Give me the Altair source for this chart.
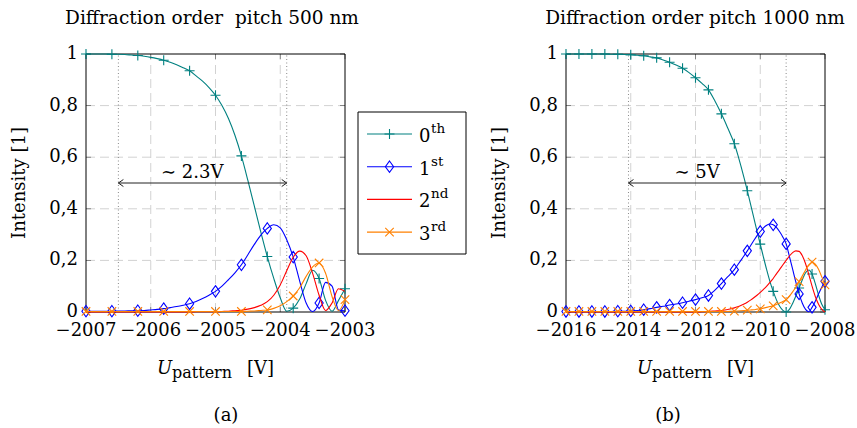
import altair as alt
import pandas as pd

# ---------------- data ----------------
L_X = [-2007.0, -2006.9, -2006.8, -2006.7, -2006.6, -2006.5, -2006.4, -2006.3, -2006.2, -2006.1,
       -2006.0, -2005.9, -2005.8, -2005.7, -2005.6, -2005.5, -2005.4, -2005.3, -2005.2, -2005.1,
       -2005.0, -2004.9, -2004.8, -2004.7, -2004.6, -2004.5, -2004.4, -2004.3, -2004.2, -2004.1,
       -2004.0, -2003.9, -2003.8, -2003.7, -2003.6, -2003.5, -2003.4, -2003.3, -2003.2, -2003.1,
       -2003.0]
L_0 = [1.000, 1.000, 1.000, 1.000, 0.999, 0.999, 0.998, 0.996, 0.994, 0.991,
       0.987, 0.982, 0.976, 0.968, 0.958, 0.947, 0.935, 0.915, 0.895, 0.870,
       0.840, 0.800, 0.750, 0.685, 0.605, 0.510, 0.410, 0.310, 0.215, 0.130,
       0.055, 0.003, 0.015, 0.050, 0.110, 0.162, 0.130, 0.045, 0.003, 0.045,
       0.090]
L_1 = [0.003, 0.003, 0.003, 0.003, 0.003, 0.004, 0.004, 0.005, 0.005, 0.006,
       0.008, 0.010, 0.013, 0.017, 0.021, 0.026, 0.032, 0.041, 0.052, 0.065,
       0.080, 0.100, 0.125, 0.152, 0.183, 0.222, 0.262, 0.298, 0.324, 0.338,
       0.326, 0.280, 0.213, 0.120, 0.035, 0.002, 0.035, 0.115, 0.100, 0.008,
       0.005]
L_2 = [0.000, 0.000, 0.000, 0.000, 0.000, 0.000, 0.000, 0.000, 0.000, 0.000,
       0.000, 0.000, 0.000, 0.000, 0.000, 0.000, 0.000, 0.001, 0.001, 0.001,
       0.001, 0.002, 0.003, 0.005, 0.007, 0.011, 0.017, 0.026, 0.040, 0.065,
       0.105, 0.160, 0.212, 0.236, 0.218, 0.150, 0.065, 0.006, 0.035, 0.090,
       0.080]
L_3 = [0.002, 0.002, 0.002, 0.002, 0.002, 0.002, 0.002, 0.002, 0.002, 0.002,
       0.002, 0.002, 0.002, 0.002, 0.002, 0.002, 0.002, 0.002, 0.002, 0.002,
       0.002, 0.002, 0.002, 0.002, 0.002, 0.003, 0.004, 0.006, 0.008, 0.014,
       0.024, 0.040, 0.062, 0.094, 0.138, 0.175, 0.190, 0.150, 0.060, 0.005,
       0.048]
L_MARK_X = [-2007.0, -2006.6, -2006.2, -2005.8, -2005.4, -2005.0, -2004.6, -2004.2, -2003.8, -2003.4, -2003.0]

R_X = [-2016.0, -2015.8, -2015.6, -2015.4, -2015.2, -2015.0, -2014.8, -2014.6, -2014.4, -2014.2,
       -2014.0, -2013.8, -2013.6, -2013.4, -2013.2, -2013.0, -2012.8, -2012.6, -2012.4, -2012.2,
       -2012.0, -2011.8, -2011.6, -2011.4, -2011.2, -2011.0,
       -2010.9, -2010.8, -2010.7, -2010.6, -2010.5, -2010.4, -2010.3, -2010.2, -2010.1, -2010.0,
       -2009.9, -2009.8, -2009.7, -2009.6, -2009.5, -2009.4, -2009.3, -2009.2, -2009.1, -2009.0,
       -2008.9, -2008.8, -2008.7, -2008.6, -2008.5, -2008.4, -2008.3, -2008.2, -2008.1, -2008.0]
R_0 = [1.000, 1.000, 1.000, 1.000, 1.000, 1.000, 1.000, 0.999, 0.999, 0.998,
       0.997, 0.995, 0.993, 0.989, 0.985, 0.977, 0.968, 0.957, 0.945, 0.928,
       0.908, 0.886, 0.861, 0.818, 0.768, 0.712,
       0.683, 0.652, 0.612, 0.567, 0.520, 0.470, 0.418, 0.366, 0.313, 0.263,
       0.212, 0.163, 0.118, 0.080, 0.047, 0.022, 0.006, 0.000, 0.010, 0.033,
       0.062, 0.093, 0.125, 0.152, 0.163, 0.147, 0.110, 0.066, 0.030, 0.009]
R_1 = [0.002, 0.002, 0.002, 0.002, 0.002, 0.002, 0.002, 0.002, 0.003, 0.003,
       0.004, 0.006, 0.009, 0.013, 0.018, 0.022, 0.027, 0.031, 0.036, 0.042,
       0.048, 0.055, 0.064, 0.085, 0.110, 0.137,
       0.150, 0.164, 0.182, 0.200, 0.218, 0.237, 0.257, 0.277, 0.296, 0.312,
       0.326, 0.336, 0.341, 0.338, 0.328, 0.311, 0.290, 0.264, 0.216, 0.166,
       0.116, 0.070, 0.034, 0.010, 0.001, 0.018, 0.042, 0.070, 0.096, 0.119]
R_2 = [0.000, 0.000, 0.000, 0.000, 0.000, 0.000, 0.000, 0.000, 0.000, 0.000,
       0.000, 0.000, 0.000, 0.000, 0.000, 0.000, 0.000, 0.000, 0.000, 0.000,
       0.000, 0.001, 0.002, 0.004, 0.006, 0.010,
       0.013, 0.016, 0.020, 0.025, 0.031, 0.038, 0.046, 0.055, 0.065, 0.076,
       0.088, 0.100, 0.115, 0.130, 0.148, 0.165, 0.183, 0.200, 0.217, 0.230,
       0.237, 0.235, 0.218, 0.187, 0.145, 0.100, 0.060, 0.030, 0.010, 0.000]
R_3 = [0.002, 0.002, 0.002, 0.002, 0.002, 0.002, 0.002, 0.002, 0.002, 0.002,
       0.002, 0.002, 0.002, 0.002, 0.002, 0.002, 0.002, 0.002, 0.002, 0.002,
       0.002, 0.002, 0.002, 0.002, 0.002, 0.002,
       0.003, 0.003, 0.004, 0.005, 0.006, 0.007, 0.008, 0.009, 0.011, 0.012,
       0.015, 0.018, 0.021, 0.024, 0.029, 0.035, 0.041, 0.048, 0.062, 0.078,
       0.097, 0.118, 0.140, 0.163, 0.183, 0.193, 0.186, 0.166, 0.136, 0.105]
R_MARK_X = [-2016.0, -2015.6, -2015.2, -2014.8, -2014.4, -2014.0, -2013.6, -2013.2, -2012.8,
            -2012.4, -2012.0, -2011.6, -2011.2, -2010.8, -2010.4, -2010.0, -2009.6, -2009.2,
            -2008.8, -2008.4, -2008.0]

L_DOMAIN = [-2007, -2003]
R_DOMAIN = [-2016, -2008]
L_XTICKS = [-2007, -2006, -2005, -2004, -2003]
R_XTICKS = [-2016, -2014, -2012, -2010, -2008]
Y_TICKS = [0, 0.2, 0.4, 0.6, 0.8, 1]
Y_LABELS = ["0", "0,2", "0,4", "0,6", "0,8", "1"]
L_SPAN = [-2006.5, -2003.9]
R_SPAN = [-2014.07, -2009.2]
SPAN_Y = [0.5]
SPAN_LABEL_Y = [0.52]
L_SPAN_LABEL = "∼ 2.3V"
R_SPAN_LABEL = "∼ 5V"
L_LABEL_X = [-2005.36]
R_LABEL_X = [-2011.95]

ORDER_BASE = ["0", "1", "2", "3"]
ORDER_SUP = ["th", "st", "nd", "rd"]
TITLES = ["Diffraction order\u00a0 pitch 500 nm", "Diffraction order pitch 1000 nm"]
CAPTIONS = ["(a)", "(b)"]
Y_TITLE = "Intensity [1]"
X_TITLE = ["U", "pattern", "[V]"]

# ---------------- style ----------------
FONT = "DejaVu Serif"
W, H = 857, 428
Y0PX, Y1PX = 312, 54
COLORS = ["#008080", "#0000ff", "#ff0000", "#ff8000"]
PLUS = "M-1,0L1,0M0,-1L0,1"
DIAMOND = "M0,-1L0.72,0L0,1L-0.72,0Z"
XMARK = "M-1,-1L1,1M-1,1L1,-1"
SHAPES = [PLUS, DIAMOND, None, XMARK]
SIZES = [100, 130, 0, 72]
HEAD_L = "M1,-0.7L0,0L1,0.7"
HEAD_R = "M-1,-0.7L0,0L-1,0.7"
GRID = "#d2d2d2"
DUMMY = pd.DataFrame({"_": [0]})


def xlabel(v):
    return ("−" if v < 0 else "") + str(abs(int(v)))


def panel(xs, series, mark_x, xdom, xticks, span, label_x, label, px0, px1):
    xsc = alt.Scale(domain=xdom, range=[px0, px1], nice=False, zero=False)
    ysc = alt.Scale(domain=[0, 1], range=[Y0PX, Y1PX], nice=False, zero=False)
    X = alt.X("x:Q", scale=xsc, axis=None)
    Y = alt.Y("y:Q", scale=ysc, axis=None)
    layers = []
    ygrid = pd.DataFrame({"y": [v for v in Y_TICKS if 0 < v < 1]})
    ygrid["x"] = xdom[0]
    ygrid["x2"] = xdom[1]
    layers.append(alt.Chart(ygrid).mark_rule(color=GRID, strokeDash=[9, 5], strokeWidth=1)
                  .encode(x=X, x2="x2:Q", y=Y))
    xgrid = pd.DataFrame({"x": [v for v in xticks if xdom[0] < v < xdom[1]]})
    xgrid["y"] = 0
    xgrid["y2"] = 1
    layers.append(alt.Chart(xgrid).mark_rule(color=GRID, strokeDash=[9, 5], strokeWidth=1)
                  .encode(x=X, y=Y, y2="y2:Q"))
    dot = pd.DataFrame({"x": span})
    dot["y"] = 0
    dot["y2"] = 1
    layers.append(alt.Chart(dot).mark_rule(color="#8a8a8a", strokeDash=[1, 2.5], strokeWidth=1)
                  .encode(x=X, y=Y, y2="y2:Q"))
    # inward ticks
    tk = pd.DataFrame({"x": xticks})
    tk["y"] = 0
    tk["yt"] = 1
    layers.append(alt.Chart(tk).mark_tick(orient="vertical", size=5, thickness=0.8, color="#444", yOffset=-2.5)
                  .encode(x=X, y=Y))
    layers.append(alt.Chart(tk).mark_tick(orient="vertical", size=5, thickness=0.8, color="#444", yOffset=2.5)
                  .encode(x=X, y=alt.Y("yt:Q", scale=ysc, axis=None)))
    ty = pd.DataFrame({"y": Y_TICKS})
    ty["x"] = xdom[0]
    ty["xr"] = xdom[1]
    layers.append(alt.Chart(ty).mark_tick(orient="horizontal", size=5, thickness=0.8, color="#444", xOffset=2.5)
                  .encode(x=X, y=Y))
    layers.append(alt.Chart(ty).mark_tick(orient="horizontal", size=5, thickness=0.8, color="#444", xOffset=-2.5)
                  .encode(x=alt.X("xr:Q", scale=xsc, axis=None), y=Y))
    # frame
    fr = pd.DataFrame({"x": [xdom[0]], "x2": [xdom[1]], "y": [0], "y2": [1]})
    layers.append(alt.Chart(fr).mark_rect(fillOpacity=0, stroke="black", strokeWidth=1)
                  .encode(x=X, x2="x2:Q", y=Y, y2="y2:Q"))
    # series
    for k, ys in enumerate(series):
        df = pd.DataFrame({"x": xs, "y": ys})
        layers.append(alt.Chart(df).mark_line(color=COLORS[k], strokeWidth=1.1, interpolate="monotone")
                      .encode(x=X, y=Y))
        if SHAPES[k]:
            dm = df[df["x"].apply(lambda v: any(abs(v - m) < 1e-6 for m in mark_x))]
            layers.append(alt.Chart(dm).mark_point(shape=SHAPES[k], filled=False, size=SIZES[k],
                                                   color=COLORS[k], strokeWidth=1.1, opacity=1)
                          .encode(x=X, y=Y))
    # span arrow
    arr = pd.DataFrame({"x": [span[0]], "x2": [span[1]], "y": SPAN_Y})
    layers.append(alt.Chart(arr).mark_rule(color="#222", strokeWidth=1).encode(x=X, x2="x2:Q", y=Y))
    hl = pd.DataFrame({"x": [span[0]], "y": SPAN_Y})
    hr = pd.DataFrame({"x": [span[1]], "y": SPAN_Y})
    layers.append(alt.Chart(hl).mark_point(shape=HEAD_L, filled=False, size=100, color="#222",
                                           strokeWidth=1, opacity=1).encode(x=X, y=Y))
    layers.append(alt.Chart(hr).mark_point(shape=HEAD_R, filled=False, size=100, color="#222",
                                           strokeWidth=1, opacity=1).encode(x=X, y=Y))
    lab = pd.DataFrame({"x": label_x, "y": SPAN_LABEL_Y, "t": [label]})
    layers.append(alt.Chart(lab).mark_text(font=FONT, fontSize=18, color="black", baseline="alphabetic",
                                           align="center").encode(x=X, y=Y, text="t:N"))
    # tick labels
    xl = pd.DataFrame({"x": xticks, "t": [xlabel(v) for v in xticks]})
    xl["y"] = 0
    layers.append(alt.Chart(xl).mark_text(font=FONT, fontSize=18, color="black", baseline="alphabetic",
                                          align="center", dy=24).encode(x=X, y=Y, text="t:N"))
    yl = pd.DataFrame({"y": Y_TICKS, "t": Y_LABELS})
    yl["x"] = xdom[0]
    layers.append(alt.Chart(yl).mark_text(font=FONT, fontSize=18, color="black", baseline="middle",
                                          align="right", dx=-8).encode(x=X, y=Y, text="t:N"))
    return alt.layer(*layers)


def txt(s, x, y, size=18, align="center", baseline="alphabetic", angle=0, style="normal"):
    return alt.Chart(DUMMY).mark_text(text=s, font=FONT, fontSize=size, align=align, baseline=baseline,
                                      angle=angle, fontStyle=style, color="black").encode(
        x=alt.value(x), y=alt.value(y))


left = panel(L_X, [L_0, L_1, L_2, L_3], L_MARK_X, L_DOMAIN, L_XTICKS, L_SPAN, L_LABEL_X, L_SPAN_LABEL, 86, 345)
right = panel(R_X, [R_0, R_1, R_2, R_3], R_MARK_X, R_DOMAIN, R_XTICKS, R_SPAN, R_LABEL_X, R_SPAN_LABEL, 566, 825)

overlay = [
    txt(TITLES[0], 212, 24, size=18.5), txt(TITLES[1], 695, 24, size=18.5),
    txt(Y_TITLE, 20, 183, angle=270, baseline="middle"),
    txt(Y_TITLE, 500, 183, angle=270, baseline="middle"),
    txt(CAPTIONS[0], 226, 421), txt(CAPTIONS[1], 668, 421),
]
for off in (0, 480):
    overlay.append(txt(X_TITLE[0], 157 + off, 374, align="left", style="italic"))
    overlay.append(txt(X_TITLE[1], 172 + off, 378, size=16, align="left"))
    overlay.append(txt(X_TITLE[2], 247 + off, 374, align="left"))

# legend
overlay.append(alt.Chart(DUMMY).mark_rect(fill="white", stroke="black", strokeWidth=1).encode(
    x=alt.value(358), x2=alt.value(466), y=alt.value(112), y2=alt.value(254)))
for i in range(4):
    yy = 134 + i * 32.7
    overlay.append(alt.Chart(DUMMY).mark_rule(color=COLORS[i], strokeWidth=1.1).encode(
        x=alt.value(367), x2=alt.value(412), y=alt.value(yy)))
    if SHAPES[i]:
        overlay.append(alt.Chart(DUMMY).mark_point(shape=SHAPES[i], filled=False, size=SIZES[i],
                                                   color=COLORS[i], strokeWidth=1.1, opacity=1).encode(
            x=alt.value(389.5), y=alt.value(yy)))
    overlay.append(txt(ORDER_BASE[i], 419, yy + 8, align="left"))
    overlay.append(txt(ORDER_SUP[i], 431, yy - 1, size=13.5, align="left"))

chart = alt.layer(left, right, *overlay).resolve_scale(x="independent", y="independent").properties(
    width=W, height=H, autosize=alt.AutoSizeParams(type="none"), padding=0
).configure_view(stroke=None)

chart.save("out.html", embed_options={"renderer": "svg", "actions": False})
